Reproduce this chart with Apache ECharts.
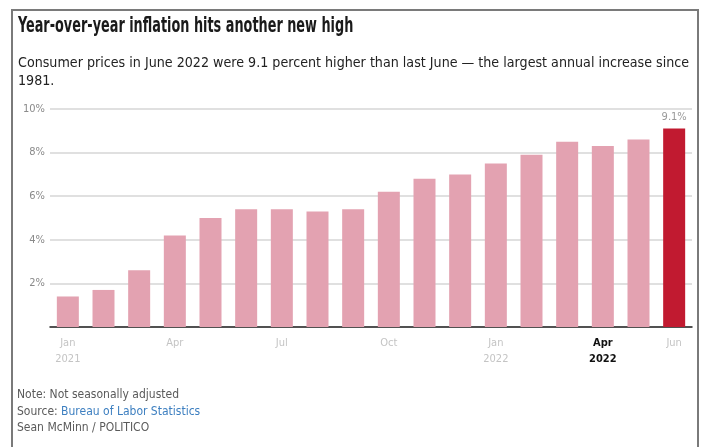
<!DOCTYPE html>
<html>
<head>
<meta charset="utf-8">
<script src="https://cdn.jsdelivr.net/npm/echarts@6/dist/echarts.min.js"></script>
<style>
html,body{margin:0;padding:0;background:#fff;}
#chart{width:707px;height:447px;}
</style>
</head>
<body>
<div id="chart"></div>
<script>
const months = ["Jan","Feb","Mar","Apr","May","Jun","Jul","Aug","Sep","Oct","Nov","Dec","Jan","Feb","Mar","Apr","May","Jun"];
const years = ["2021","2021","2021","2021","2021","2021","2021","2021","2021","2021","2021","2021","2022","2022","2022","2022","2022","2022"];
const cpiYoY = [1.4,1.7,2.6,4.2,5.0,5.4,5.4,5.3,5.4,6.2,6.8,7.0,7.5,7.9,8.5,8.3,8.6,9.1];
const shownTicks = [0,3,6,9,12,15,17];
const yearShown = [0,12,15];
const highlightIndex = 15;

const categories = months.map((m,i)=>m+" "+years[i]);
const F = '"DejaVu Sans Condensed", "Liberation Sans Narrow", sans-serif';

const chart = echarts.init(document.getElementById('chart'), null, {renderer:'canvas'});
chart.setOption({
  animation:false,
  backgroundColor:'#fff',
  graphic:[{
    type:'polyline', silent:true,
    shape:{points:[[12,460],[12,10],[698,10],[698,460]]},
    style:{stroke:'#7a7a7a', lineWidth:2, fill:null}
  },{
    type:'text', x:18, y:16, scaleX:0.68, silent:true,
    style:{
      text:'Year-over-year inflation hits another new high',
      font:'bold 21px "DejaVu Sans Condensed", sans-serif',
      fill:'#1a1a1a', textVerticalAlign:'top'
    }
  },{
    type:'text', x:18, y:54, scaleX:1.01, silent:true,
    style:{
      text:'Consumer prices in June 2022 were 9.1 percent higher than last June — the largest annual increase since\n1981.',
      font:'14px "DejaVu Sans Condensed", sans-serif', lineHeight:18,
      fill:'#222', textVerticalAlign:'top'
    }
  },{
    type:'text', left:17, top:387,
    style:{
      text:'Note: Not seasonally adjusted\n{l|Source: }{b|Bureau of Labor Statistics}\nSean McMinn / POLITICO',
      fontFamily:F, fontSize:12, lineHeight:16.5, fill:'#5a5a5a',
      rich:{l:{fontFamily:F,fontSize:12,fill:'#5a5a5a'}, b:{fontFamily:F,fontSize:12,fill:'#3d7fc0'}}
    }
  }],
  grid:{left:50, right:15, top:109, bottom:120},
  xAxis:{
    type:'category', data:categories,
    axisLine:{lineStyle:{color:'#222', width:1.5}},
    axisTick:{show:false},
    axisLabel:{
      interval:(i)=>shownTicks.indexOf(i)>=0,
      margin:8,
      lineHeight:16,
      formatter:(v,i)=>{
        const parts=v.split(' ');
        const y = yearShown.indexOf(i)>=0 ? '\n'+parts[1] : '';
        if(i===highlightIndex) return '{h|'+parts[0]+y+'}';
        return parts[0]+y;
      },
      fontFamily:F, fontSize:11, color:'#c4c4c4',
      rich:{h:{fontFamily:F, fontSize:11, fontWeight:'bold', color:'#111', lineHeight:16}}
    }
  },
  yAxis:{
    type:'value', min:0, max:10, interval:2,
    axisLine:{show:false}, axisTick:{show:false},
    splitLine:{lineStyle:{color:'#d6d6d6', width:1.5}},
    axisLabel:{
      formatter:(v)=>v===0?'':v+'%',
      fontFamily:F, fontSize:11, color:'#8a8a8a', margin:5
    }
  },
  series:[{
    type:'bar', data:cpiYoY.map((v,i)=>({
      value:v,
      itemStyle:{color: i===cpiYoY.length-1 ? '#c11a30' : '#e3a2b1'},
      label:{show:i===cpiYoY.length-1, position:'top', formatter:'{c}%', color:'#999', fontFamily:F, fontSize:11, distance:6}
    })),
    barWidth:22
  }]
});
</script>
</body>
</html>
